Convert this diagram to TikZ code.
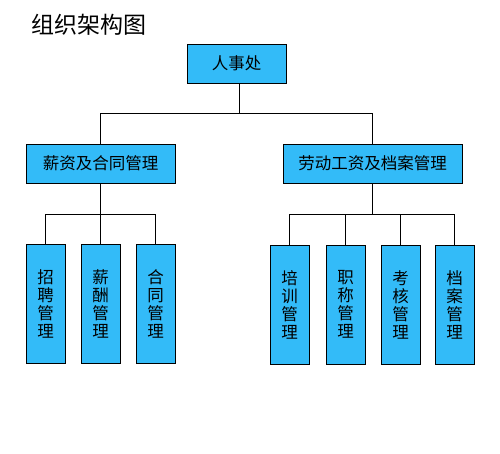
\documentclass[tikz,border=0pt]{standalone}
\usepackage{fontspec}
\newfontfamily\cjk{Noto Sans CJK SC}
\definecolor{boxblue}{HTML}{33BBF8}
\tikzset{
  orgbox/.style={draw=black, line width=0.9pt, fill=boxblue, inner sep=0pt, font=\cjk\fontsize{16.5}{18}\selectfont},
  hbox/.style={orgbox, minimum height=39pt},
  vbox/.style={orgbox, minimum width=39pt, minimum height=119pt, align=center},
  link/.style={draw=black, line width=0.9pt}
}
\begin{document}
\begin{tikzpicture}[x=1pt,y=1pt]
\useasboundingbox (0,0) rectangle (500,-454);
\node[anchor=west, inner sep=0pt, font=\cjk\fontsize{23}{25}\selectfont] (title) at (31,-25) {组织架构图};
\node[hbox, minimum width=99pt] (top) at (236.5,-63.5) {人事处};
\node[hbox, minimum width=149pt] (left) at (100.5,-163.5) {薪资及合同管理};
\node[hbox, minimum width=179pt] (right) at (372.5,-163.5) {劳动工资及档案管理};
\node[vbox] (a1) at (45.5,-303.5) {招\\聘\\管\\理};
\node[vbox] (a2) at (100.5,-303.5) {薪\\酬\\管\\理};
\node[vbox] (a3) at (155.5,-303.5) {合\\同\\管\\理};
\node[vbox] (b1) at (289.5,-304.5) {培\\训\\管\\理};
\node[vbox] (b2) at (345.5,-304.5) {职\\称\\管\\理};
\node[vbox] (b3) at (400.5,-304.5) {考\\核\\管\\理};
\node[vbox] (b4) at (454.5,-304.5) {档\\案\\管\\理};
\coordinate (j1) at (239,-113);
\coordinate (j2) at (100.5,-214);
\coordinate (j3) at (372.5,-214);
\draw[link] (top.south -| j1) -- (j1);
\draw[link] (j1) -| (left.north);
\draw[link] (j1) -| (right.north);
\draw[link] (left.south) -- (j2);
\draw[link] (j2) -| (a1.north);
\draw[link] (j2) -- (a2.north);
\draw[link] (j2) -| (a3.north);
\draw[link] (right.south) -- (j3);
\draw[link] (j3) -| (b1.north);
\draw[link] (j3) -| (b2.north);
\draw[link] (j3) -| (b3.north);
\draw[link] (j3) -| (b4.north);
\end{tikzpicture}
\end{document}
